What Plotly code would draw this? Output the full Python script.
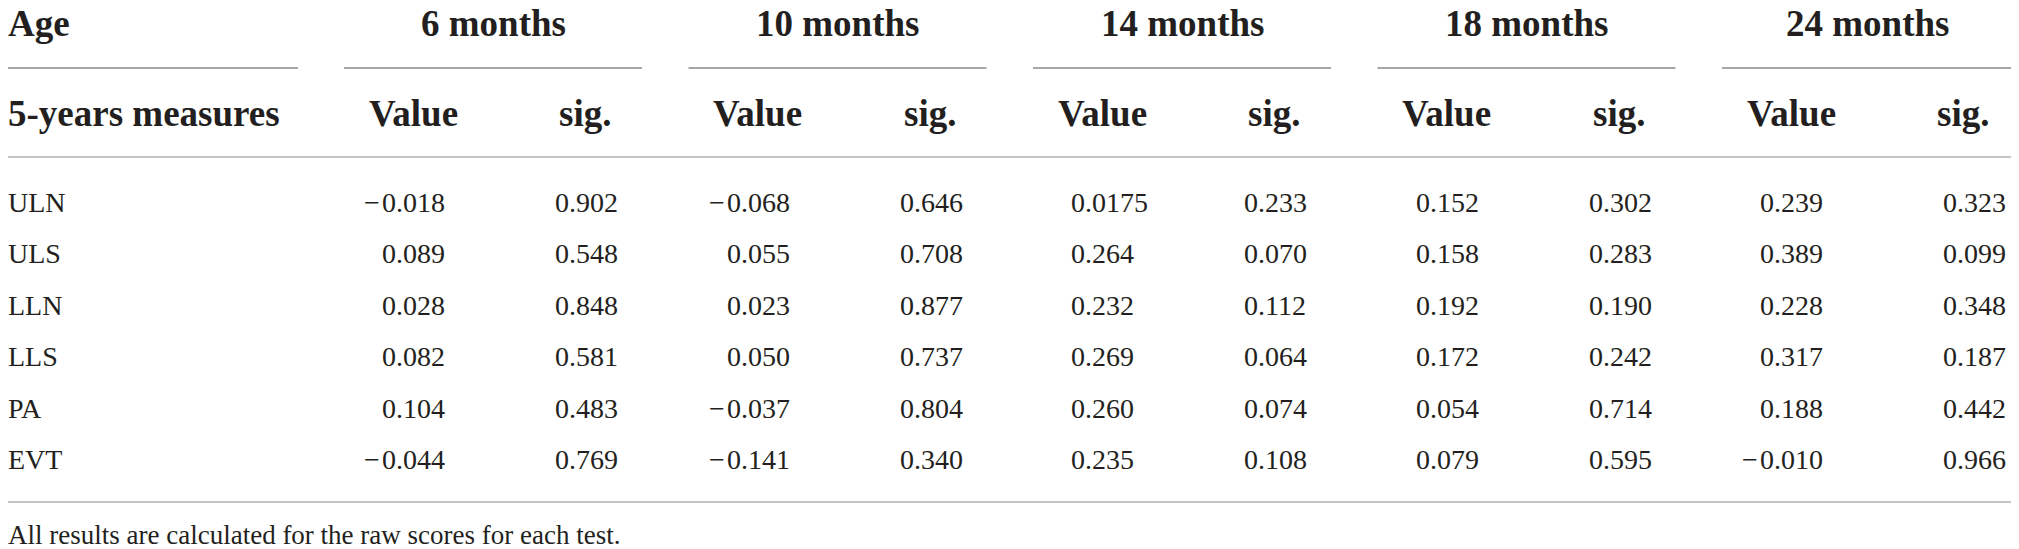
import plotly.graph_objects as go

# table content
measures = ["ULN", "ULS", "LLN", "LLS", "PA", "EVT"]
ages = ["6 months", "10 months", "14 months", "18 months", "24 months"]

value_6m = ["-0.018", "0.089", "0.028", "0.082", "0.104", "-0.044"]
sig_6m = ["0.902", "0.548", "0.848", "0.581", "0.483", "0.769"]
value_10m = ["-0.068", "0.055", "0.023", "0.050", "-0.037", "-0.141"]
sig_10m = ["0.646", "0.708", "0.877", "0.737", "0.804", "0.340"]
value_14m = ["0.0175", "0.264", "0.232", "0.269", "0.260", "0.235"]
sig_14m = ["0.233", "0.070", "0.112", "0.064", "0.074", "0.108"]
value_18m = ["0.152", "0.158", "0.192", "0.172", "0.054", "0.079"]
sig_18m = ["0.302", "0.283", "0.190", "0.242", "0.714", "0.595"]
value_24m = ["0.239", "0.389", "0.228", "0.317", "0.188", "-0.010"]
sig_24m = ["0.323", "0.099", "0.348", "0.187", "0.442", "0.966"]

values = [value_6m, value_10m, value_14m, value_18m, value_24m]
sigs = [sig_6m, sig_10m, sig_14m, sig_18m, sig_24m]

footnote = "All results are calculated for the raw scores for each test."

# layout (page pixels; the page body has an 8px margin)
W, H = 2019, 549
PAD = 8
TXT = "#231f20"
SERIF = "Liberation Serif"
HEAD_SIZE = 37
BODY_SIZE = 28

x_left = 8
y_head1 = 23
y_under = 68
y_head2 = 113
y_rule_top = 157
y_first_row = 202
row_step = 51.5
y_rule_bottom = 502
y_note = 535

group_start = 344
group_step = 344.5
group_width = 298

annotations = []
shapes = []


def txt(x, y, s, size=BODY_SIZE, bold=False, anchor="left"):
    annotations.append(dict(
        x=x, y=y, xref="x", yref="y", text=f"<b>{s}</b>" if bold else s,
        showarrow=False, xanchor=anchor, yanchor="middle",
        borderpad=0, borderwidth=0,
        font=dict(family=SERIF, size=size, color=TXT)))


def hline(x0, x1, y, color, width):
    shapes.append(dict(type="line", xref="x", yref="y", x0=x0, x1=x1, y0=y, y1=y,
                       line=dict(color=color, width=width)))


# left header
txt(x_left, y_head1, "Age", HEAD_SIZE, bold=True)
hline(PAD, 298, y_under, "#8a8a8a", 1.5)
txt(x_left, y_head2, "5-years measures", HEAD_SIZE, bold=True)

for g, age in enumerate(ages):
    x0 = group_start + g * group_step
    x1 = min(x0 + group_width, 2013)
    txt((x0 + x1) / 2, y_head1, age, HEAD_SIZE, bold=True, anchor="center")
    hline(x0, x1, y_under, "#8a8a8a", 1.5)
    txt(x0 + 69, y_head2, "Value", HEAD_SIZE, bold=True, anchor="center")
    txt(x0 + 241, y_head2, "sig.", HEAD_SIZE, bold=True, anchor="center")

    val_x = x0 + 38
    sig_x = x0 + 211 + (10 if g == len(ages) - 1 else 0)
    for i, (v, s) in enumerate(zip(values[g], sigs[g])):
        y = y_first_row + i * row_step
        if v.startswith("-"):
            # hanging minus sign, digits stay aligned
            txt(val_x - 2, y, "\u2212", anchor="right")
            v = v[1:]
        txt(val_x, y, v)
        txt(sig_x, y, s)

for i, m in enumerate(measures):
    txt(x_left, y_first_row + i * row_step, m)

hline(PAD, W, y_rule_top, "#c4c4c4", 2)
hline(PAD, W, y_rule_bottom, "#c4c4c4", 2)
txt(x_left, y_note, footnote, 27)

fig = go.Figure()
fig.update_layout(
    width=W - PAD, height=H - PAD,
    margin=dict(l=0, r=0, t=0, b=0),
    paper_bgcolor="white", plot_bgcolor="white",
    xaxis=dict(range=[PAD, W], visible=False, fixedrange=True),
    yaxis=dict(range=[H, PAD], visible=False, fixedrange=True),
    annotations=annotations, shapes=shapes,
    showlegend=False,
)
fig.write_html("out.html")
